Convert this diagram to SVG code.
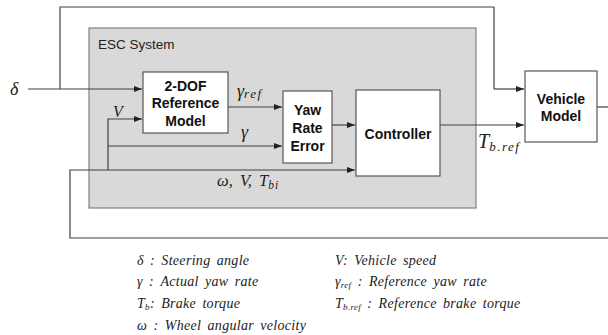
<svg xmlns="http://www.w3.org/2000/svg" width="608" height="335" viewBox="0 0 608 335">
<defs>
<marker id="ah" viewBox="0 0 8 8" refX="8" refY="4" markerWidth="8" markerHeight="8" markerUnits="userSpaceOnUse" orient="auto">
<path d="M0,1 L8,4 L0,7 Z" fill="#222"/>
</marker>
<style>
.box{fill:#fff;stroke:#555;stroke-width:1.2}
.bl{font-family:"Liberation Sans",Arial,sans-serif;font-weight:bold;font-size:14px;fill:#111;text-anchor:middle}
.ln{fill:none;stroke:#404040;stroke-width:1.2}
.arr{fill:none;stroke:#404040;stroke-width:1.2;marker-end:url(#ah)}
.m{font-family:"Liberation Serif","Times New Roman",serif;font-style:italic;fill:#222}
.lg{font-family:"Liberation Serif","Times New Roman",serif;font-style:italic;font-size:14px;fill:#222;letter-spacing:0.3px;word-spacing:2.5px}
</style>
</defs>
<rect width="608" height="335" fill="#fff"/>
<g id="esc">
<rect x="89" y="28" width="387" height="180" fill="#d9d9d9" stroke="#808080" stroke-width="1.2"/>
<text x="98" y="49" font-family="Liberation Sans,Arial,sans-serif" font-size="13.5" fill="#222">ESC System</text>
</g>
<g id="connectors">
<path class="ln" d="M60,89 V7 H494 V89"/>
<path class="arr" d="M494,89 H524"/>
<path class="arr" d="M28,89 H142"/>
<path class="arr" d="M228,107 H282"/>
<path class="arr" d="M108,170 V119 H142"/>
<path class="arr" d="M108,146 H282"/>
<path class="arr" d="M332,125 H355"/>
<path class="arr" d="M608,238 H70 V170 H355"/>
<path class="arr" d="M440,125 H524"/>
<path class="ln" d="M597,107 H608"/>
</g>
<g id="labels">
<text class="m" x="10" y="95" font-size="18">δ</text>
<text class="m" x="113" y="117" font-size="16">V</text>
<text class="m" x="237" y="97" font-size="18">γ<tspan font-size="13" dy="1" letter-spacing="1.5">ref</tspan></text>
<text class="m" x="241" y="138" font-size="18">γ</text>
<text class="m" x="217" y="186" font-size="16.5" word-spacing="3">ω,  V,  T<tspan font-size="11.5" dy="3" letter-spacing="1">bi</tspan></text>
<text class="m" x="478" y="148" font-size="20">T<tspan font-size="13" dy="3" letter-spacing="1.5">b.ref</tspan></text>
</g>
<g id="dof">
<rect class="box" x="143" y="72" width="85" height="61"/>
<text class="bl" x="185.5" y="91">2-DOF</text>
<text class="bl" x="185.5" y="108">Reference</text>
<text class="bl" x="185.5" y="126">Model</text>
</g>
<g id="yaw">
<rect class="box" x="283" y="91" width="49" height="72"/>
<text class="bl" x="307.5" y="115">Yaw</text>
<text class="bl" x="307.5" y="133">Rate</text>
<text class="bl" x="307.5" y="151">Error</text>
</g>
<g id="controller">
<rect class="box" x="356" y="90" width="84" height="86"/>
<text class="bl" x="398" y="139">Controller</text>
</g>
<g id="vehicle">
<rect class="box" x="525" y="71" width="72" height="71"/>
<text class="bl" x="561" y="104">Vehicle</text>
<text class="bl" x="561" y="121">Model</text>
</g>
<g id="legend">
<text class="lg" x="137" y="265">δ : Steering angle</text>
<text class="lg" x="137" y="286">γ : Actual yaw rate</text>
<text class="lg" x="137" y="308">T<tspan font-size="9" dy="2">b</tspan><tspan dy="-2">: Brake torque</tspan></text>
<text class="lg" x="137" y="330">ω : Wheel angular velocity</text>
<text class="lg" x="335" y="265">V: Vehicle speed</text>
<text class="lg" x="335" y="286">γ<tspan font-size="9" dy="2">ref</tspan><tspan dy="-2"> : Reference yaw rate</tspan></text>
<text class="lg" x="335" y="308">T<tspan font-size="9" dy="2">b.ref</tspan><tspan dy="-2"> : Reference brake torque</tspan></text>
</g>
</svg>
